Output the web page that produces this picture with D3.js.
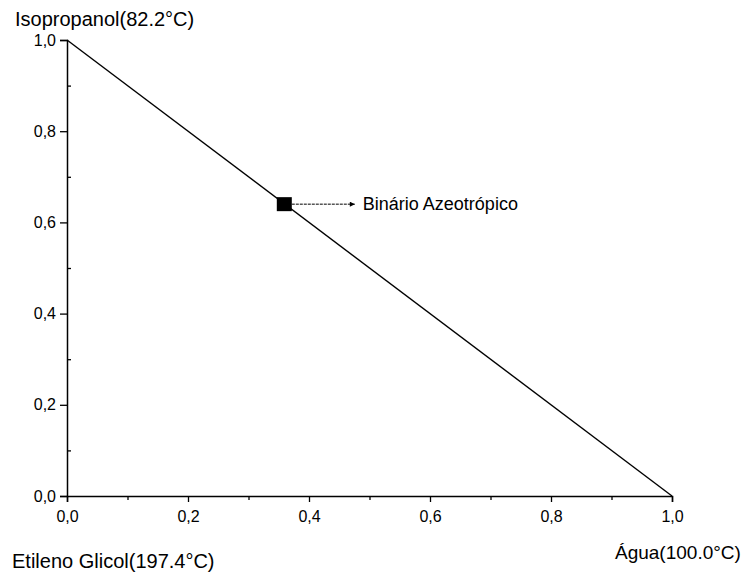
<!DOCTYPE html>
<html lang="en">
<head>
  <meta charset="utf-8">
  <title>Diagrama ternário</title>
  <script src="https://d3js.org/d3.v7.min.js"></script>
  <style>
    body { margin: 0; background: white; }
    text { font-family: "Liberation Sans", Arial, sans-serif; fill: black; }
  </style>
</head>
<body>
<script>
    // data
    var lineX = [0.0, 1.0];
    var lineY = [1.0, 0.0];
    var azeoX = [0.36];
    var azeoY = [0.64];
    var xTicks = [0.0, 0.2, 0.4, 0.6, 0.8, 1.0];
    var yTicks = [0.0, 0.2, 0.4, 0.6, 0.8, 1.0];
    var minorTicks = [0.1, 0.3, 0.5, 0.7, 0.9];
    var cornerLabels = ["Isopropanol(82.2°C)", "Etileno Glicol(197.4°C)", "Água(100.0°C)"];
    var azeoLabel = "Binário Azeotrópico";

    var width = 750, height = 576;
    var mLeft = 67, mRight = 672, mTop = 40, mBottom = 496;

    var fmt = function(d){ return d3.format(".1f")(d).replace(".", ","); };

    var svg = d3.select("body").append("svg")
                .attr("width", width).attr("height", height);

    var x = d3.scaleLinear().domain([0, 1]).range([mLeft, mRight]);
    var y = d3.scaleLinear().domain([0, 1]).range([mBottom, mTop]);

    // axes
    svg.append("g").attr("transform", "translate(0," + mBottom + ")")
        .call(d3.axisBottom(x).tickValues(xTicks).tickFormat(fmt).tickSize(6).tickPadding(9));
    svg.append("g").attr("transform", "translate(0," + mBottom + ")")
        .call(d3.axisBottom(x).tickValues(minorTicks).tickFormat("").tickSize(4))
        .select(".domain").remove();

    svg.append("g").attr("transform", "translate(" + mLeft + ",0)")
        .call(d3.axisLeft(y).tickValues(yTicks).tickFormat(fmt).tickSize(7).tickPadding(4));
    svg.append("g").attr("transform", "translate(" + mLeft + ",0)")
        .call(d3.axisRight(y).tickValues(minorTicks).tickFormat("").tickSize(4))
        .select(".domain").remove();

    svg.selectAll(".domain").attr("stroke", "black").attr("stroke-width", 1.5);
    svg.selectAll(".tick line").attr("stroke", "black").attr("stroke-width", 1.3);
    svg.selectAll(".tick text").attr("font-size", 16).style("font-size", "16px")
        .style("font-family", "'Liberation Sans', Arial, sans-serif").attr("fill", "black");

    // line between the two corners
    var pts = lineX.map(function(d, i){ return [d, lineY[i]]; });
    svg.append("path").datum(pts)
        .attr("d", d3.line().x(function(d){ return x(d[0]); }).y(function(d){ return y(d[1]); }))
        .attr("fill", "none").attr("stroke", "black").attr("stroke-width", 1.4);

    // azeotrope marker
    var defs = svg.append("defs");
    defs.append("marker").attr("id", "arrow").attr("viewBox", "0 0 10 10")
        .attr("refX", 10).attr("refY", 5).attr("markerWidth", 8).attr("markerHeight", 5)
        .attr("orient", "auto").attr("markerUnits", "userSpaceOnUse")
        .append("path").attr("d", "M0,0L10,5L0,10Z").attr("fill", "black");

    azeoX.forEach(function(ax, i){
        var cx = x(ax), cy = y(azeoY[i]);
        svg.append("rect").attr("x", cx - 8).attr("y", cy - 7)
            .attr("width", 15).attr("height", 14).attr("fill", "black");
        svg.append("line").attr("x1", cx + 7).attr("y1", cy).attr("x2", cx + 70).attr("y2", cy)
            .attr("stroke", "black").attr("stroke-width", 1).attr("stroke-dasharray", "3,1")
            .attr("marker-end", "url(#arrow)");
        svg.append("text").attr("x", cx + 78).attr("y", cy + 6)
            .style("font-size", "18px").text(azeoLabel);
    });

    // corner labels
    svg.append("text").attr("x", 15).attr("y", 26).style("font-size", "20px").text(cornerLabels[0]);
    svg.append("text").attr("x", 12).attr("y", 568).style("font-size", "20px").text(cornerLabels[1]);
    svg.append("text").attr("x", 615).attr("y", 559).style("font-size", "19px").text(cornerLabels[2]);
</script>
</body>
</html>
